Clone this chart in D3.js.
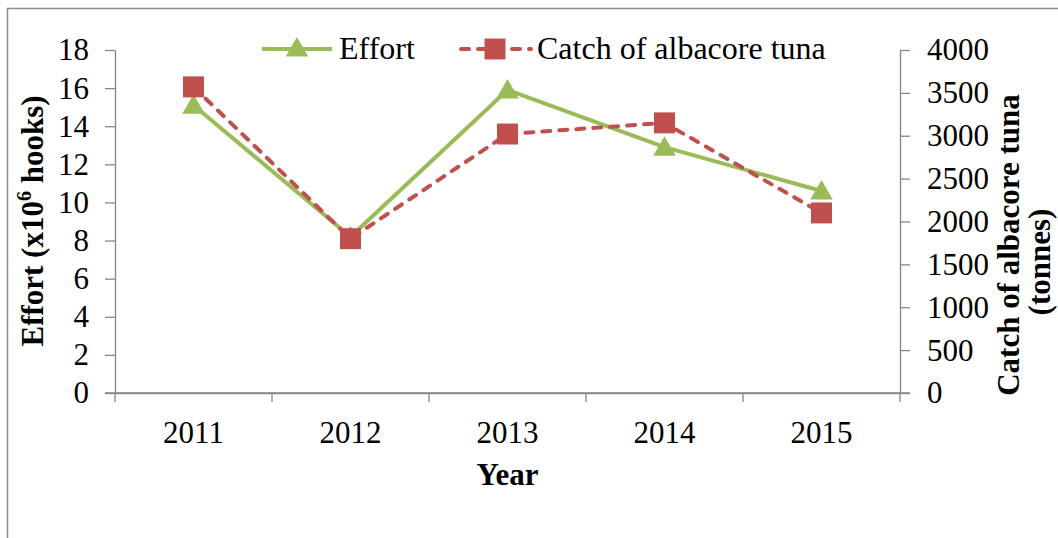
<!DOCTYPE html>
<html>
<head>
<meta charset="utf-8">
<script src="https://cdn.jsdelivr.net/npm/d3@7"></script>
<style>
  body { margin: 0; background: #fff; }
  svg text { font-family: "Liberation Serif", "Times New Roman", serif; fill: #000; }
</style>
</head>
<body>
<div class="svg-container"></div>
<script>
// data
const years = ['2011', '2012', '2013', '2014', '2015'];
const effort = [15.1, 8.2, 15.9, 12.9, 10.6];          // x10^6 hooks, left axis
const catchTonnes = [3570, 1800, 3020, 3150, 2100];    // tonnes, right axis
const effortTicks = [0, 2, 4, 6, 8, 10, 12, 14, 16, 18];
const catchTicks = [0, 500, 1000, 1500, 2000, 2500, 3000, 3500, 4000];

const width = 1058;
const height = 538;
const plot = { left: 115, right: 900, top: 50, bottom: 393 };
const serif = '"Liberation Serif", "Times New Roman", serif';

const green = '#9bbb59';
const red = '#c0504d';
const axisGrey = '#868686';

const svg = d3.select('.svg-container')
  .append('svg')
  .attr('width', width)
  .attr('height', height)
  .attr('font-family', serif);

// outer chart frame (runs off the right and bottom edges)
svg.append('rect')
  .attr('x', 7.5)
  .attr('y', 8.5)
  .attr('width', width + 20)
  .attr('height', height + 20)
  .attr('fill', 'none')
  .attr('stroke', '#8c8c8c')
  .attr('stroke-width', 1.5);

// scales
const x = d3.scaleBand()
  .domain(years)
  .range([plot.left, plot.right]);

const yLeft = d3.scaleLinear()
  .domain([0, 18])
  .range([plot.bottom, plot.top]);

const yRight = d3.scaleLinear()
  .domain([0, 4000])
  .range([plot.bottom, plot.top]);

const cx = d => x(d) + x.bandwidth() / 2;

// left axis
const leftAxis = svg.append('g')
  .attr('transform', `translate(${plot.left},0)`)
  .call(d3.axisLeft(yLeft).tickValues(effortTicks).tickSize(10).tickPadding(16).tickSizeOuter(0));

// right axis
const rightAxis = svg.append('g')
  .attr('transform', `translate(${plot.right},0)`)
  .call(d3.axisRight(yRight).tickValues(catchTicks).tickFormat(d3.format('d'))
    .tickSize(10).tickPadding(17).tickSizeOuter(0));

// bottom axis: labels centred in each band, ticks on band edges
const bottomAxis = svg.append('g')
  .attr('transform', `translate(0,${plot.bottom})`)
  .call(d3.axisBottom(x).tickSize(0).tickPadding(28).tickSizeOuter(0));

bottomAxis.selectAll('line.edge')
  .data(years.concat(['end']))
  .enter()
  .append('line')
  .attr('class', 'edge')
  .attr('x1', d => d === 'end' ? plot.right : x(d))
  .attr('x2', d => d === 'end' ? plot.right : x(d))
  .attr('y1', 0)
  .attr('y2', 9)
  .attr('stroke', axisGrey)
  .attr('stroke-width', 1.3);

[leftAxis, rightAxis, bottomAxis].forEach(g => {
  g.attr('font-family', serif);
  g.selectAll('path.domain').attr('stroke', axisGrey).attr('stroke-width', 1.3);
  g.selectAll('.tick line').attr('stroke', axisGrey).attr('stroke-width', 1.3);
  g.selectAll('.tick text')
    .attr('font-size', 31)
    .attr('font-family', serif)
    .attr('fill', '#000');
});

// extend the baseline out to both outer ticks
svg.append('line')
  .attr('x1', plot.left - 10).attr('x2', plot.right + 10)
  .attr('y1', plot.bottom).attr('y2', plot.bottom)
  .attr('stroke', axisGrey).attr('stroke-width', 1.3);

// axis titles
const leftTitle = svg.append('text')
  .attr('transform', 'translate(43,221) rotate(-90)')
  .attr('text-anchor', 'middle')
  .attr('font-family', serif)
  .attr('font-size', 31)
  .attr('font-weight', 'bold');
leftTitle.append('tspan').text('Effort (x10');
leftTitle.append('tspan').attr('font-size', 20).attr('dy', -12).text('6');
leftTitle.append('tspan').attr('dy', 12).text(' hooks)');

svg.append('text')
  .attr('transform', 'translate(1019,245) rotate(-90)')
  .attr('text-anchor', 'middle')
  .attr('font-family', serif)
  .attr('font-size', 31)
  .attr('font-weight', 'bold')
  .text('Catch of albacore tuna');

svg.append('text')
  .attr('transform', 'translate(1050,262) rotate(-90)')
  .attr('text-anchor', 'middle')
  .attr('font-family', serif)
  .attr('font-size', 31)
  .attr('font-weight', 'bold')
  .text('(tonnes)');

svg.append('text')
  .attr('x', (plot.left + plot.right) / 2)
  .attr('y', 485)
  .attr('text-anchor', 'middle')
  .attr('font-family', serif)
  .attr('font-size', 31)
  .attr('font-weight', 'bold')
  .text('Year');

// series
const effortPts = years.map((d, i) => [cx(d), yLeft(effort[i])]);
const catchPts = years.map((d, i) => [cx(d), yRight(catchTonnes[i])]);

const line = d3.line();

svg.append('path')
  .attr('d', line(effortPts))
  .attr('fill', 'none')
  .attr('stroke', green)
  .attr('stroke-width', 4);

svg.append('path')
  .attr('d', line(catchPts))
  .attr('fill', 'none')
  .attr('stroke', red)
  .attr('stroke-width', 4)
  .attr('stroke-linecap', 'round')
  .attr('stroke-dasharray', '8,9');

const triangle = d3.symbol().type(d3.symbolTriangle).size(220);
const square = d3.symbol().type(d3.symbolSquare).size(440);

svg.selectAll('.tri')
  .data(effortPts)
  .enter()
  .append('path')
  .attr('class', 'tri')
  .attr('d', triangle)
  .attr('transform', d => `translate(${d[0]},${d[1] + 2})`)
  .attr('fill', green);

svg.selectAll('.sq')
  .data(catchPts)
  .enter()
  .append('path')
  .attr('class', 'sq')
  .attr('d', square)
  .attr('transform', d => `translate(${d[0]},${d[1]})`)
  .attr('fill', red);

// legend
const legendY = 49;
const legend = svg.append('g').attr('font-family', serif);

legend.append('line')
  .attr('x1', 262).attr('x2', 332)
  .attr('y1', legendY).attr('y2', legendY)
  .attr('stroke', green).attr('stroke-width', 4);
legend.append('path')
  .attr('d', triangle)
  .attr('transform', `translate(297,${legendY + 1})`)
  .attr('fill', green);
legend.append('text')
  .attr('x', 339).attr('y', legendY + 10)
  .attr('font-family', serif)
  .attr('font-size', 32)
  .text('Effort');

legend.append('line')
  .attr('x1', 461).attr('x2', 531)
  .attr('y1', legendY).attr('y2', legendY)
  .attr('stroke', red).attr('stroke-width', 4)
  .attr('stroke-linecap', 'round')
  .attr('stroke-dasharray', '8,9');
legend.append('path')
  .attr('d', square)
  .attr('transform', `translate(495,${legendY})`)
  .attr('fill', red);
legend.append('text')
  .attr('x', 537).attr('y', legendY + 10)
  .attr('font-family', serif)
  .attr('font-size', 32)
  .text('Catch of albacore tuna');
</script>
</body>
</html>
